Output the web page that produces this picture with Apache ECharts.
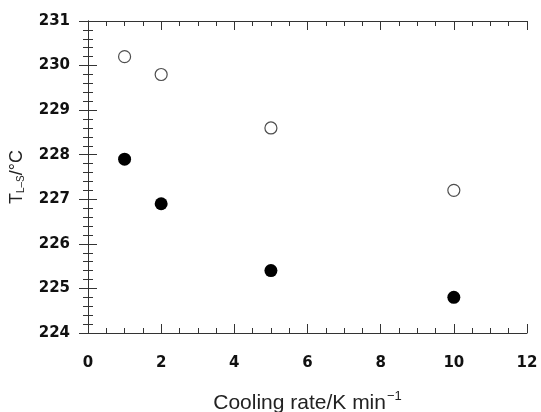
<!DOCTYPE html>
<html>
<head>
<meta charset="utf-8">
<script src="https://cdn.jsdelivr.net/npm/echarts@6/dist/echarts.min.js"></script>
<style>html,body{margin:0;padding:0;background:#fff}#c{width:541px;height:412px}</style>
</head>
<body>
<div id="c"></div>
<script>
const coolingRate = [1, 2, 5, 10];
const openValues = [230.2, 229.8, 228.6, 227.2];
const filledValues = [227.9, 226.9, 225.4, 224.8];
const xTicks = [0, 2, 4, 6, 8, 10, 12];
const yTicks = [224, 225, 226, 227, 228, 229, 230, 231];

const chart = echarts.init(document.getElementById('c'));
const lineC = '#333';
const tickFont = {fontFamily: 'DejaVu Sans', fontWeight: 'bold', fontSize: 15, color: '#111'};
function baseX(show) {
  return {
    type: 'value', min: 0, max: 12, interval: 2,
    axisLine: {show: true, lineStyle: {color: lineC, width: 1}},
    axisTick: {show: true, inside: true, length: 9, lineStyle: {color: lineC}},
    minorTick: {show: true, splitNumber: 4, length: 5, lineStyle: {color: lineC}},
    splitLine: {show: false},
    axisLabel: Object.assign({show: show, margin: 23, formatter: v => xTicks.includes(v) ? String(v) : ''}, tickFont)
  };
}
function baseY(show) {
  return {
    type: 'value', min: 224, max: 231, interval: 1,
    axisLine: {show: true, lineStyle: {color: lineC, width: 1}},
    axisTick: {show: true, inside: true, length: 9, lineStyle: {color: lineC}},
    minorTick: {show: true, splitNumber: 5, length: 5, lineStyle: {color: lineC}},
    splitLine: {show: false},
    axisLabel: Object.assign({show: show, margin: 18, formatter: v => yTicks.includes(v) ? String(v) : ''}, tickFont)
  };
}
const x0 = baseX(true);
x0.position = 'bottom';
x0.name = 'Cooling rate/K min{sup|\u22121}';
x0.nameLocation = 'middle';
x0.nameGap = 57;
x0.nameTextStyle = {
  fontFamily: 'Liberation Sans, Arial', fontSize: 21, color: '#222',
  rich: {sup: {fontFamily: 'Liberation Sans, Arial', fontSize: 13, color: '#222', verticalAlign: 'top', padding: [0,0,14,1]}}
};
const x1 = baseX(false);
x1.position = 'top';
const y0 = baseY(true);
y0.position = 'left';
y0.name = 'T{sub|L\u2013S}/°C';
y0.nameLocation = 'middle';
y0.nameGap = 62;
y0.nameRotate = 90;
y0.nameTextStyle = {
  fontFamily: 'Liberation Sans, Arial', fontSize: 18, color: '#222',
  rich: {sub: {fontFamily: 'Liberation Sans, Arial', fontSize: 10, color: '#222', padding: [8,0,0,0]}}
};
const y1 = baseY(false);
y1.position = 'right';

chart.setOption({
  animation: false,
  backgroundColor: '#fff',
  grid: {left: 88, right: 14, top: 21, bottom: 79, containLabel: false, outerBoundsMode: 'none'},
  xAxis: [x0, x1],
  yAxis: [y0, y1],
  series: [
    {
      type: 'scatter', xAxisIndex: 0, yAxisIndex: 0,
      data: coolingRate.map((x, i) => [x, openValues[i]]),
      symbol: 'circle', symbolSize: 12,
      itemStyle: {color: '#fff', borderColor: '#222', borderWidth: 1.2}
    },
    {
      type: 'scatter', xAxisIndex: 0, yAxisIndex: 0,
      data: coolingRate.map((x, i) => [x, filledValues[i]]),
      symbol: 'circle', symbolSize: 13,
      itemStyle: {color: '#000', opacity: 1}
    }
  ]
});
</script>
</body>
</html>
